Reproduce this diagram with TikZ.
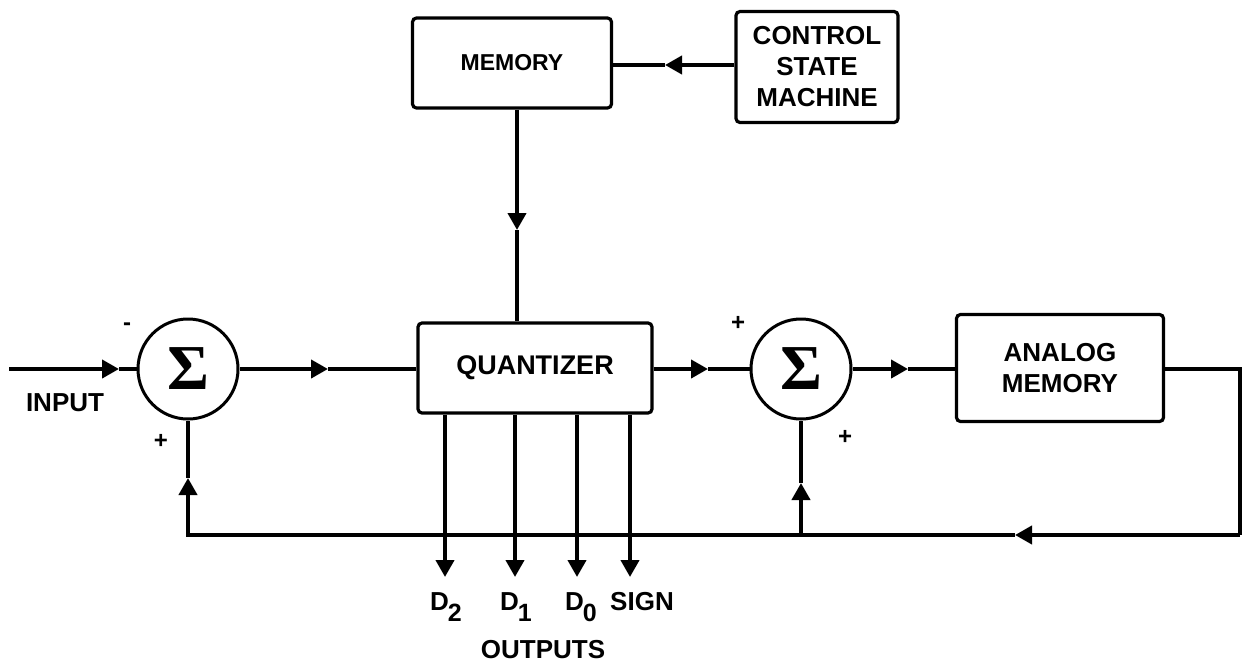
\documentclass[tikz,border=0pt]{standalone}
\usepackage{fontspec}
\newfontfamily\hel{Liberation Sans}
\newfontfamily\serf{Liberation Serif}
\usetikzlibrary{arrows.meta}
\newcommand\subd[1]{\hspace{-1pt}\raisebox{-11pt}{\fontsize{25}{25}\selectfont #1}}
\tikzset{
 blk/.style={draw, line width=3.2pt, rounded corners=4pt, font=\hel\bfseries\fontsize{26}{31}\selectfont, align=center, inner sep=0pt},
 sumc/.style={draw, circle, line width=3pt, minimum size=100pt, inner sep=0pt, font=\serf\bfseries\fontsize{64}{64}\selectfont},
 wire/.style={line width=4pt, line join=miter},
 arr/.style={wire, -{Triangle[length=17pt,width=18pt]}},
 lbl/.style={font=\hel\bfseries\fontsize{26}{31}\selectfont, inner sep=0pt, anchor=base},
 sgn/.style={font=\hel\bfseries\fontsize{24}{24}\selectfont, inner sep=0pt}
}
\begin{document}
\begin{tikzpicture}[x=1pt,y=-1pt]
\useasboundingbox (0,0) rectangle (1244,662);
% blocks
\node[blk, minimum width=199pt, minimum height=90pt, font=\hel\bfseries\fontsize{23}{27}\selectfont] (mem) at (512,63) {MEMORY};
\node[blk, minimum width=162pt, minimum height=111pt] (ctl) at (817,67) {CONTROL\\STATE\\MACHINE};
\node[blk, minimum width=234pt, minimum height=90pt, font=\hel\bfseries\fontsize{27}{31}\selectfont] (qz) at (535,368) {QUANTIZER};
\node[blk, minimum width=207pt, minimum height=107pt] (am) at (1060,368) {ANALOG\\MEMORY};
\node[sumc] (s1) at (188,369) {Σ};
\node[sumc] (s2) at (801,369) {Σ};
% coordinates
\coordinate (c1) at (665,65);
\coordinate (m1) at (517,230);
\coordinate (in0) at (9,369);
\coordinate (in1) at (119,369);
\coordinate (a1) at (328,369);
\coordinate (a2) at (708,369);
\coordinate (a3) at (908,369);
\coordinate (r1) at (1240,369);
\coordinate (r2) at (1240,535);
\coordinate (b1) at (1015,535);
\coordinate (b2) at (801,535);
\coordinate (b3) at (188,535);
\coordinate (u1) at (188,478);
\coordinate (u2) at (801,483);
\coordinate (o1) at (445,577);
\coordinate (o2) at (515,577);
\coordinate (o3) at (577,577);
\coordinate (o4) at (630,577);
% connectors
\draw[arr] (ctl.west |- c1) -- (c1);
\draw[wire] (c1) -- (mem.east |- c1);
\draw[arr] (mem.south -| m1) -- (m1);
\draw[wire] (m1) -- (qz.north -| m1);
\draw[arr] (in0) -- (in1);
\draw[wire] (in1) -- (s1.west);
\draw[arr] (s1.east) -- (a1);
\draw[wire] (a1) -- (qz.west |- a1);
\draw[arr] (qz.east |- a2) -- (a2);
\draw[wire] (a2) -- (s2.west);
\draw[arr] (s2.east) -- (a3);
\draw[wire] (a3) -- (am.west |- a3);
\draw[wire] (am.east |- r1) -- (r1) -- (r2);
\draw[arr] (r2) -- (b1);
\draw[arr] (b1) -- (b3) -- (u1);
\draw[wire] (u1) -- (s1.south);
\draw[arr] (b2) -- (u2);
\draw[wire] (u2) -- (s2.south);
\draw[arr] (qz.south -| o1) -- (o1);
\draw[arr] (qz.south -| o2) -- (o2);
\draw[arr] (qz.south -| o3) -- (o3);
\draw[arr] (qz.south -| o4) -- (o4);
% labels
\node[lbl] (d2) at (446,610) {D\subd{2}};
\node[lbl] (d1) at (516,610) {D\subd{1}};
\node[lbl] (d0) at (581,610) {D\subd{0}};
\node[lbl] (sg) at (642,610) {SIGN};
\node[lbl] (out) at (543,658) {OUTPUTS};
\node[lbl] (inp) at (65,411) {INPUT};
\node[sgn] (m1s) at (127,327) {-};
\node[sgn] (p1s) at (161,441) {+};
\node[sgn] (p2s) at (738,323) {+};
\node[sgn] (p3s) at (845,437) {+};
\end{tikzpicture}
\end{document}
